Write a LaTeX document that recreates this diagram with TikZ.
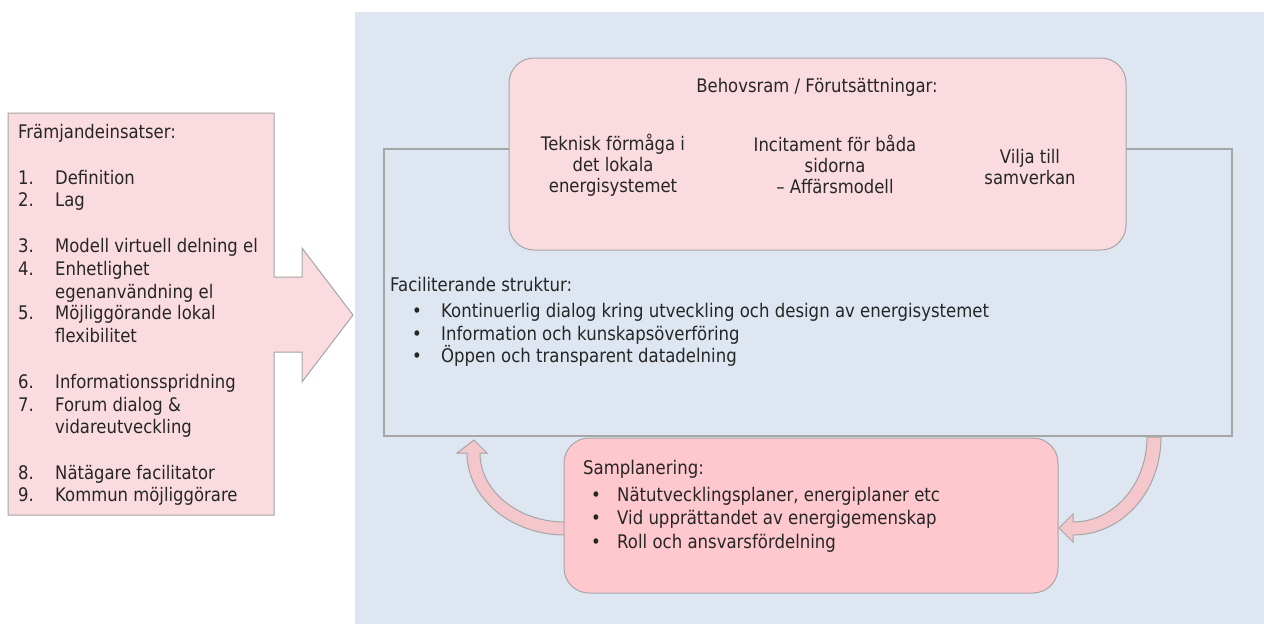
\documentclass[tikz,border=0pt]{standalone}
\usepackage{fontspec}
\setmainfont{DejaVu Sans}[FakeStretch=0.88]
\definecolor{bgblue}{RGB}{222,230,241}
\definecolor{pinkA}{RGB}{250,219,224}
\definecolor{pinkB}{RGB}{255,199,206}
\definecolor{arrpink}{RGB}{244,199,204}
\definecolor{linegray}{RGB}{166,166,166}
\definecolor{txtcol}{RGB}{38,38,38}
\tikzset{
  txt/.style={font=\fontsize{18.8}{21}\selectfont, text=txtcol, inner sep=0pt, anchor=base west},
  ltxt/.style={font=\fontsize{18.7}{21}\selectfont, text=txtcol, inner sep=0pt, anchor=base west},
  ctxt/.style={font=\fontsize{18.7}{21}\selectfont, text=txtcol, inner sep=0pt, align=center},
  blockarrow/.style={draw=linegray, line width=1pt, fill=pinkA, line join=miter},
  curvearrow/.style={draw=linegray, line width=1pt, fill=arrpink},
  framebox/.style={draw=linegray, line width=2pt, inner sep=0pt},
  roundbox/.style={draw=linegray, line width=1pt, rounded corners=25pt, inner sep=0pt},
}
\begin{document}
\begin{tikzpicture}[x=1pt,y=-1pt]
\useasboundingbox (0,0) rectangle (1264,624);
\fill[white] (0,0) rectangle (1264,624);
\fill[bgblue] (355,12) rectangle (1264,624);
% left block arrow
\draw[blockarrow] (8,113) -- (274,113) -- (274,277) -- (302,277) -- (302,248) -- (353,315)
  -- (302,382) -- (302,352) -- (274,352) -- (274,515) -- (8,515) -- cycle;
% left list
\node[ltxt] (lhead) at (18,138) {Främjandeinsatser:};
\node[ltxt] (n1) at (18,184) {1.};  \node[ltxt] (t1) at (55,184) {Definition};
\node[ltxt] (n2) at (18,206) {2.};  \node[ltxt] (t2) at (55,206) {Lag};
\node[ltxt] (n3) at (18,252) {3.};  \node[ltxt] (t3) at (55,252) {Modell virtuell delning el};
\node[ltxt] (n4) at (18,275) {4.};  \node[ltxt] (t4) at (55,275) {Enhetlighet};
                                    \node[ltxt] (t4b) at (55,298) {egenanvändning el};
\node[ltxt] (n5) at (18,319) {5.};  \node[ltxt] (t5) at (55,319) {Möjliggörande lokal};
                                    \node[ltxt] (t5b) at (55,342) {flexibilitet};
\node[ltxt] (n6) at (18,388) {6.};  \node[ltxt] (t6) at (55,388) {Informationsspridning};
\node[ltxt] (n7) at (18,411) {7.};  \node[ltxt] (t7) at (55,411) {Forum dialog \&};
                                    \node[ltxt] (t7b) at (55,433) {vidareutveckling};
\node[ltxt] (n8) at (18,479) {8.};  \node[ltxt] (t8) at (55,479) {Nätägare facilitator};
\node[ltxt] (n9) at (18,501) {9.};  \node[ltxt] (t9) at (55,501) {Kommun möjliggörare};
% facilitating frame
\node[framebox, minimum width=848pt, minimum height=287pt] (fac) at (808,292.5) {};
% top box
\node[roundbox, fill=pinkA, minimum width=617pt, minimum height=192pt] (behov) at (817.5,154) {};
\node[ctxt] (btitle) at (817,87) {Behovsram / Förutsättningar:};
\node[ctxt] (c1) at (613,165) {Teknisk förmåga i\\det lokala\\energisystemet};
\node[ctxt] (c2) at (835,164) {Incitament för båda\\sidorna\\– Affärsmodell};
\node[ctxt] (c3) at (1030,167) {Vilja till\\samverkan};
% facilitating text
\node[txt] (fhead) at (390,291) {Faciliterande struktur:};
\node[txt] (fb1) at (412,317) {•}; \node[txt] (ft1) at (441,317) {Kontinuerlig dialog kring utveckling och design av energisystemet};
\node[txt] (fb2) at (412,340) {•}; \node[txt] (ft2) at (441,340) {Information och kunskapsöverföring};
\node[txt] (fb3) at (412,362) {•}; \node[txt] (ft3) at (441,362) {Öppen och transparent datadelning};
% curved arrows
\draw[curvearrow] (570,522) -- (565,522) .. controls (518,522) and (480,491) .. (480,453)
  -- (487,453) -- (474,440) -- (457,453) -- (467,453) .. controls (467,498) and (511,535) .. (565,535) -- (570,535);
\draw[curvearrow] (1147,437) -- (1161,437) .. controls (1161,492) and (1122,535) .. (1073,535)
  -- (1073,542) -- (1059,528) -- (1073,514) -- (1073,522) .. controls (1114,522) and (1147,484) .. (1147,437);
% bottom box
\node[roundbox, fill=pinkB, minimum width=494pt, minimum height=155pt] (sam) at (811,515.5) {};
\node[txt] (shead) at (583,474) {Samplanering:};
\node[txt] (sb1) at (591,501) {•}; \node[txt] (st1) at (617,501) {Nätutvecklingsplaner, energiplaner etc};
\node[txt] (sb2) at (591,524) {•}; \node[txt] (st2) at (617,524) {Vid upprättandet av energigemenskap};
\node[txt] (sb3) at (591,548) {•}; \node[txt] (st3) at (617,548) {Roll och ansvarsfördelning};
\end{tikzpicture}
\end{document}
